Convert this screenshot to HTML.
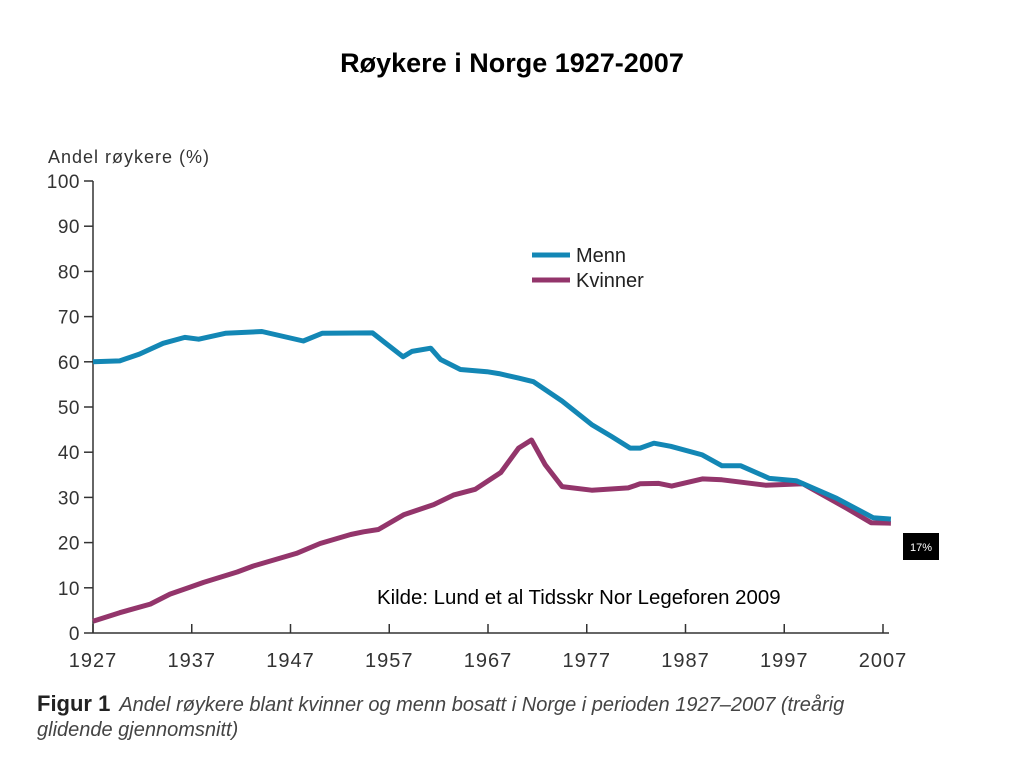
<!DOCTYPE html>
<html><head><meta charset="utf-8"><style>
body{margin:0;width:1024px;height:768px;background:#fff;overflow:hidden;font-family:"Liberation Sans",sans-serif;}
svg{position:absolute;left:0;top:0}
</style></head><body>
<svg width="1024" height="768">
<text x="512" y="72" text-anchor="middle" font-size="27" font-weight="bold" fill="#000">Røykere i Norge 1927-2007</text>
<text x="48" y="163" font-size="18" letter-spacing="1" fill="#333">Andel røykere (%)</text>
<g id="axes"></g>
<g id="series"></g>
<g>
<line x1="532" y1="255" x2="570" y2="255" stroke="#1387b5" stroke-width="5"/>
<text x="576" y="262" font-size="20" fill="#222">Menn</text>
<line x1="532" y1="280" x2="570" y2="280" stroke="#93356b" stroke-width="5"/>
<text x="576" y="287" font-size="20" fill="#222">Kvinner</text>
</g>
<text x="377" y="604" font-size="20.4" fill="#000">Kilde: Lund et al Tidsskr Nor Legeforen 2009</text>
<rect x="903" y="533" width="36" height="27" fill="#000"/>
<text x="921" y="551" text-anchor="middle" font-size="11" fill="#fff">17%</text>
<text x="37" y="711" fill="#444"><tspan font-weight="bold" fill="#222" font-size="22">Figur 1</tspan><tspan font-style="italic" dx="9" font-size="20">Andel røykere blant kvinner og menn bosatt i Norge i perioden 1927–2007 (treårig</tspan></text>
<text x="37" y="736" font-size="20" font-style="italic" fill="#444">glidende gjennomsnitt)</text>
</svg>
<script>
const xTicks=[1927,1937,1947,1957,1967,1977,1987,1997,2007];
const yTicks=[0,10,20,30,40,50,60,70,80,90,100];
const mennYears=[1927,1929.7,1931.7,1934.1,1936.3,1937.7,1940.4,1944.1,1948.3,1950.2,1955.3,1958.4,1959.3,1961.2,1962.2,1964.2,1966.9,1968.1,1970.1,1971.6,1974.5,1977.5,1979.5,1981.4,1982.4,1983.8,1985.5,1988.7,1990.7,1992.6,1995.5,1998.2,2002.3,2006.0,2007.8];
const mennValues=[60.0,60.2,61.7,64.1,65.4,65.0,66.3,66.7,64.6,66.3,66.4,61.1,62.3,63.0,60.5,58.3,57.8,57.4,56.4,55.6,51.3,46.1,43.5,40.9,40.9,42.0,41.3,39.4,37.0,37.0,34.2,33.7,29.8,25.5,25.2];
const kvinnerYears=[1927,1929.7,1932.8,1934.8,1936.8,1938.2,1941.6,1943.2,1947.6,1950.0,1953.1,1954.4,1955.9,1958.5,1961.5,1963.5,1965.7,1968.3,1970.1,1971.4,1972.8,1974.5,1977.5,1981.2,1982.4,1984.3,1985.6,1988.7,1990.7,1995.1,1998.9,2003.3,2005.8,2007.8];
const kvinnerValues=[2.6,4.5,6.4,8.6,10.1,11.2,13.5,14.8,17.6,19.8,21.8,22.4,22.9,26.2,28.4,30.5,31.8,35.5,40.9,42.7,37.2,32.4,31.6,32.1,33.0,33.1,32.5,34.1,33.9,32.7,33.0,27.6,24.4,24.3];
const NS='http://www.w3.org/2000/svg';
function xs(y){return 93+(y-1927)*9.875;}
function ys(v){return 633-v*4.52;}
function mk(tag,attrs,parent){const e=document.createElementNS(NS,tag);for(const k in attrs)e.setAttribute(k,attrs[k]);parent.appendChild(e);return e;}
const ax=document.getElementById('axes');
let l=mk('line',{x1:93,y1:ys(100),x2:93,y2:633,stroke:'#333','stroke-width':1.5},ax);


l=mk('line',{x1:93,y1:633,x2:889,y2:633,stroke:'#333','stroke-width':1.5},ax);


yTicks.forEach(v=>{
 const t=mk('line',{x1:84,y1:ys(v),x2:93,y2:ys(v),stroke:'#333','stroke-width':1.5},ax);
 
 
 const tx=mk('text',{x:80,y:ys(v)+7,'text-anchor':'end','font-size':19,'letter-spacing':0.5,fill:'#333'},ax);
 tx.textContent=v;
 
 
});
xTicks.forEach(v=>{
 const t=mk('line',{x1:xs(v),y1:633,x2:xs(v),y2:624,stroke:'#333','stroke-width':1.5},ax);
 
 
 const tx=mk('text',{x:xs(v),y:667,'text-anchor':'middle','font-size':20,'letter-spacing':1,fill:'#333'},ax);
 tx.textContent=v;
 
 
});
const sg=document.getElementById('series');
function line(years,vals,color,name){
 const d=years.map((y,i)=>(i?'L':'M')+xs(y).toFixed(1)+','+ys(vals[i]).toFixed(1)).join(' ');
 const p=mk('path',{d:d,fill:'none',stroke:color,'stroke-width':5,'stroke-linejoin':'round'},sg);
 
 
}
line(kvinnerYears,kvinnerValues,'#93356b','kvinner-line');
line(mennYears,mennValues,'#1387b5','menn-line');
</script>
</body></html>
